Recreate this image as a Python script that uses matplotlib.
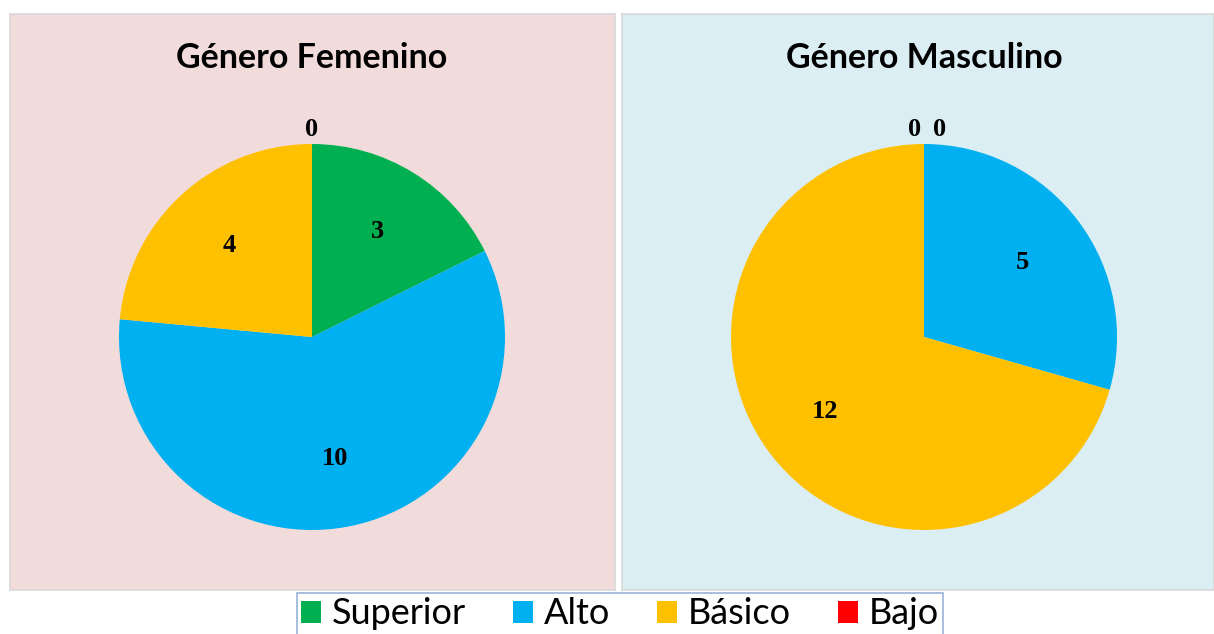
import matplotlib
matplotlib.use("Agg")
import numpy as np
import matplotlib.pyplot as plt
import matplotlib.patches as mpatches

# --- datos ---
categorias = ["Superior", "Alto", "Básico", "Bajo"]
colores = ["#00B050", "#00B0F0", "#FFC000", "#FF0000"]
femenino = [3, 10, 4, 0]
masculino = [0, 5, 12, 0]
titulos = ["Género Femenino", "Género Masculino"]

W, H = 1214, 634
fig = plt.figure(figsize=(W / 100, H / 100), dpi=100)
fig.patch.set_facecolor("white")

TITLE_FONT = ["Lato", "DejaVu Sans"]
LABEL_FONT = ["Liberation Serif", "DejaVu Serif"]


def panel(x0, y0, w, h, bg, titulo, valores, zero_offsets):
    """Dibuja un panel con fondo y un gráfico de torta (coordenadas en píxeles)"""
    ax = fig.add_axes([x0 / W, 1 - (y0 + h) / H, w / W, h / H])
    ax.set_facecolor(bg)
    cx, cy, r = 302, h - 323, 193
    wedges, _ = ax.pie(valores, colors=colores, startangle=90, counterclock=False,
                       center=(cx, cy), radius=r, frame=True,
                       wedgeprops=dict(linewidth=0))
    # etiquetas de valores
    zi = 0
    for wdg, v in zip(wedges, valores):
        if v == 0:
            ax.text(cx + zero_offsets[zi], cy + r + 15, str(v), ha="center", va="center",
                    fontsize=19, fontweight="bold", family=LABEL_FONT)
            zi += 1
            continue
        ang = np.deg2rad((wdg.theta1 + wdg.theta2) / 2)
        d = 0.64 * r
        ax.text(cx + d * np.cos(ang), cy + d * np.sin(ang), str(v), ha="center",
                va="center", fontsize=19, fontweight="bold", family=LABEL_FONT)
    ax.text(cx, h - 44, titulo, ha="center", va="center", fontsize=24.5,
            fontweight="bold", family=TITLE_FONT)
    ax.set_xlim(0, w)
    ax.set_ylim(0, h)
    ax.set_aspect("auto")
    ax.set_xticks([])
    ax.set_yticks([])
    for s in ax.spines.values():
        s.set_color("#D9D9D9")
        s.set_linewidth(1.2)
    return ax


panel(10, 14, 605, 576, "#F2DCDB", titulos[0], femenino, [0])
panel(622, 14, 592, 576, "#DBEEF4", titulos[1], masculino, [-9, 16])

handles = [mpatches.Patch(facecolor=c, edgecolor="none", label=l)
           for c, l in zip(colores, categorias)]
leg = fig.legend(handles=handles, loc="center", ncol=4,
                 bbox_to_anchor=(620 / W, 1 - 614 / H), frameon=True,
                 fancybox=False, prop=dict(family=["Lato", "DejaVu Sans"], size=26),
                 handlelength=0.55, handleheight=0.55, handletextpad=0.3,
                 columnspacing=1.3, borderpad=0.12, borderaxespad=0)
leg.get_frame().set_edgecolor("#7F9FCF")
leg.get_frame().set_linewidth(1.2)

fig.savefig("out.png", dpi=100)
